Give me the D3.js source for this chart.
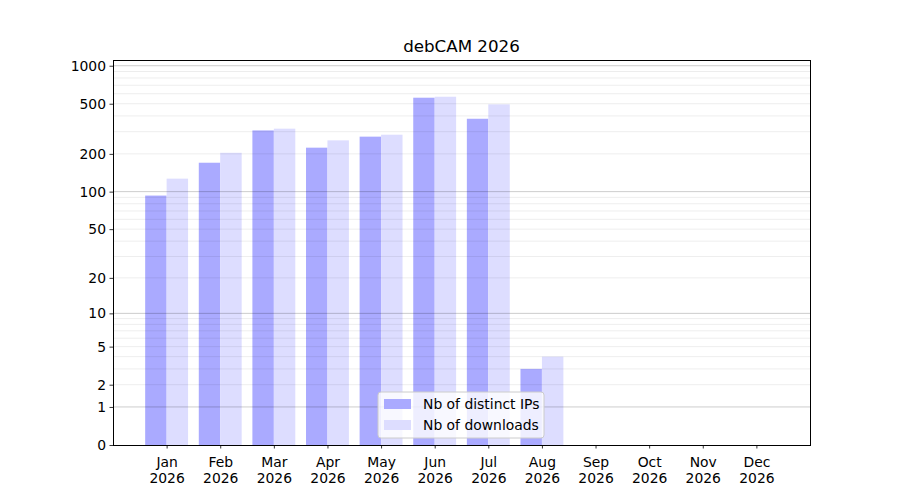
<!DOCTYPE html>
<html><head><meta charset="utf-8">
<script src="https://cdn.jsdelivr.net/npm/d3@7"></script>
<style>body{margin:0;background:#fff}svg{font-family:"DejaVu Sans",sans-serif}</style>
</head><body><div id="chart"></div>
<script>
const months = ["Jan","Feb","Mar","Apr","May","Jun","Jul","Aug","Sep","Oct","Nov","Dec"];
const year = "2026";
const distinctIPs = [93, 170, 307, 224, 274, 558, 380, 3, 0, 0, 0, 0];
const downloads = [127, 204, 317, 256, 284, 568, 494, 4, 0, 0, 0, 0];
const yTickValues = [0, 1, 2, 5, 10, 20, 50, 100, 200, 500, 1000];
const majorGrid = [1, 10, 100, 1000];
const minorGrid = [2,3,4,5,6,7,8,9,20,30,40,50,60,70,80,90,200,300,400,500,600,700,800,900];
const seriesNames = ["Nb of distinct IPs", "Nb of downloads"];
const seriesColors = ["#aaaaff", "#ddddff"];
const title = "debCAM 2026";

const W = 900, H = 500;
const L = 113, R = 810, T = 60, B = 445;
const svg = d3.select("#chart").append("svg").attr("width", W).attr("height", H);

const x = d3.scaleLinear().domain([-1, 12]).range([L, R]);
const y = d3.scaleSymlog().constant(1).domain([0, 1110]).range([B, T]);
const bw = x(0.4) - x(0);

// bars
const g = svg.append("g");
g.selectAll("rect.ip").data(distinctIPs).join("rect")
  .attr("x", (d,i) => x(i) - bw).attr("width", bw)
  .attr("y", d => y(d)).attr("height", d => B - y(d))
  .attr("fill", seriesColors[0]);
g.selectAll("rect.dl").data(downloads).join("rect")
  .attr("x", (d,i) => x(i)).attr("width", bw)
  .attr("y", d => y(d)).attr("height", d => B - y(d))
  .attr("fill", seriesColors[1]);

// grid on top
svg.append("g").selectAll("line").data(minorGrid).join("line")
  .attr("x1", L).attr("x2", R).attr("y1", d => y(d)).attr("y2", d => y(d))
  .attr("stroke", "#000").attr("stroke-opacity", 0.07).attr("stroke-width", 1);
svg.append("g").selectAll("line").data(majorGrid).join("line")
  .attr("x1", L).attr("x2", R).attr("y1", d => y(d)).attr("y2", d => y(d))
  .attr("stroke", "#000").attr("stroke-opacity", 0.2).attr("stroke-width", 1);

// axes
const yAxis = svg.append("g").attr("transform", `translate(${L},0)`)
  .call(d3.axisLeft(y).tickValues(yTickValues).tickFormat(d3.format("d")).tickSize(3.5).tickPadding(3.5));
yAxis.select(".domain").remove();
yAxis.selectAll("text").attr("font-size", "13.9px").attr("fill", "#000").attr("font-family", "DejaVu Sans");
yAxis.selectAll("line").attr("stroke", "#000").attr("stroke-width", 0.8);

const xAxis = svg.append("g").attr("transform", `translate(0,${B})`)
  .call(d3.axisBottom(x).tickValues(d3.range(12)).tickFormat("").tickSize(3.5));
xAxis.select(".domain").remove();
xAxis.selectAll("line").attr("stroke", "#000").attr("stroke-width", 0.8);
xAxis.selectAll(".tick").append("text")
  .attr("fill", "#000").attr("font-size", "13.9px").attr("text-anchor", "middle")
  .attr("font-family", "DejaVu Sans")
  .each(function(d) {
    const t = d3.select(this);
    t.append("tspan").attr("x", 0).attr("y", 22).text(months[d]);
    t.append("tspan").attr("x", 0).attr("y", 38).text(year);
  });

// frame
svg.append("rect").attr("x", L).attr("y", T).attr("width", R - L).attr("height", B - T)
  .attr("fill", "none").attr("stroke", "#000").attr("stroke-width", 1)
  .attr("shape-rendering", "crispEdges");

// title
svg.append("text").attr("x", (L + R) / 2).attr("y", 52).attr("text-anchor", "middle")
  .attr("font-size", "16.7px").attr("fill", "#000").text(title);

// legend
const lg = svg.append("g").attr("transform", "translate(378,392)");
lg.append("rect").attr("width", 166).attr("height", 46).attr("rx", 3)
  .attr("fill", "#fff").attr("fill-opacity", 0.8).attr("stroke", "#cccccc").attr("stroke-width", 1);
seriesNames.forEach((n, i) => {
  lg.append("rect").attr("x", 6).attr("y", 7 + i * 21).attr("width", 27).attr("height", 10)
    .attr("fill", seriesColors[i]);
  lg.append("text").attr("x", 45).attr("y", 17 + i * 21).attr("font-size", "13.9px")
    .attr("fill", "#000").text(n);
});
</script>
</body></html>
